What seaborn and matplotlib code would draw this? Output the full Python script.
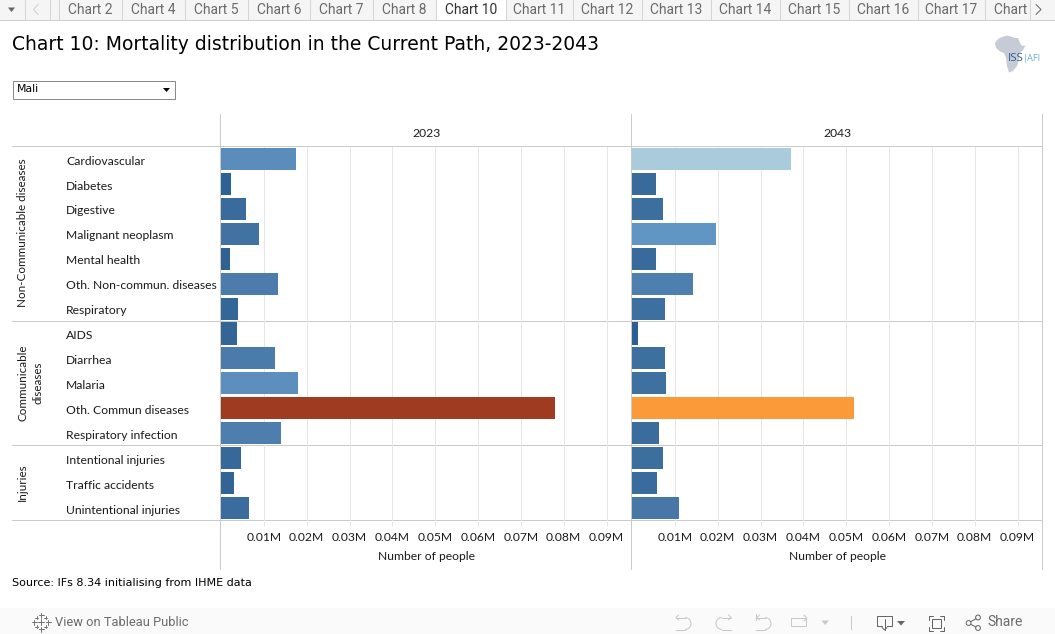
import numpy as np
import pandas as pd
import matplotlib
matplotlib.use("Agg")
import matplotlib.pyplot as plt
import seaborn as sns
from matplotlib.colors import LinearSegmentedColormap, to_hex
from matplotlib.lines import Line2D
from matplotlib.patches import Rectangle, Polygon, Arc, Circle
from matplotlib.transforms import ScaledTranslation

categories = ["Cardiovascular", "Diabetes", "Digestive", "Malignant neoplasm", "Mental health",
              "Oth. Non-commun. diseases", "Respiratory", "AIDS", "Diarrhea", "Malaria",
              "Oth. Commun diseases", "Respiratory infection", "Intentional injuries",
              "Traffic accidents", "Unintentional injuries"]
deaths_2023 = [17550, 2400, 5900, 8900, 2100, 13400, 4000, 3800, 12650, 18000, 78000, 14000, 4700, 3100, 6600]
deaths_2043 = [37200, 5500, 7300, 19700, 5700, 14300, 7800, 1300, 7600, 8000, 51900, 6400, 7300, 5900, 11000]
years = ["2023", "2043"]
group_labels = ["Non-Communicable diseases", "Communicable\ndiseases", "Injuries"]
tick_values = [10000, 20000, 30000, 40000, 50000, 60000, 70000, 80000, 90000]
tab_labels = ["Chart 2", "Chart 4", "Chart 5", "Chart 6", "Chart 7", "Chart 8", "Chart 10", "Chart 11",
              "Chart 12", "Chart 13", "Chart 14", "Chart 15", "Chart 16", "Chart 17", "Chart 18"]

W, H = 1055, 634
sns.set_theme(style="white")
plt.rcParams["font.family"] = ["Lato", "DejaVu Sans"]
fig = plt.figure(figsize=(W / 100, H / 100), dpi=100, facecolor="white")

# colour ramp: value -> colour, as in the reference's diverging legend
stops = [(0, "#2a5d8f"), (13400, "#4c7dac"), (18000, "#5c8fbe"), (19700, "#6095c4"),
         (37200, "#a9cbdc"), (51900, "#fb9a38"), (78000, "#9e3b20")]
cmap = LinearSegmentedColormap.from_list("mort", [(v / 78000, c) for v, c in stops])

def px_axes(x0, y0, x1, y1):
    return fig.add_axes([x0 / W, 1 - y1 / H, (x1 - x0) / W, (y1 - y0) / H])

# ---------- page furniture, in pixel coordinates ----------
bg = fig.add_axes([0, 0, 1, 1], zorder=0)
bg.set_xlim(0, W); bg.set_ylim(H, 0); bg.axis("off")
LINE = "#cbcbcb"
INK = "#1a1a1a"
PX = 0.72
def hl(x0, x1, y, c=LINE, lw=PX, z=5):
    bg.add_line(Line2D([x0, x1], [y, y], color=c, lw=lw, zorder=z))
def vl(x, y0, y1, c=LINE, lw=PX, z=5):
    bg.add_line(Line2D([x, x], [y0, y1], color=c, lw=lw, zorder=z))
def pl(xs, ys, c, z=3):
    bg.add_line(Line2D(xs, ys, color=c, lw=PX, zorder=z))

# tab strip
bg.add_patch(Rectangle((0, 0), W, 19.5, fc="#f5f5f5", ec="none", zorder=1))
hl(0, W, 19.5, c="#cfcfcf", z=2)
edges = [58.5, 121.7, 184.6, 247.8, 310.3, 372.5, 436, 506, 572.5, 641.5, 710.8, 779.8, 848.7, 917.7, 985.3, 1029.5]
for e in [24.7, 49.7] + edges:
    vl(e, 0, 19.5, c="#d4d4d4", z=3)
bg.add_patch(Rectangle((436, 0), 70, 20.3, fc="white", ec="none", zorder=2.5))
for i, lab in enumerate(tab_labels):
    x = (edges[i] + edges[i + 1]) / 2
    active = lab == "Chart 10"
    t = bg.text(x if i < 14 else 994.5, 9.5, lab, ha="center" if i < 14 else "left", va="center",
                fontsize=10.0, family="Roboto", color="#333333" if active else "#6b6b6b", zorder=4)
    if i == 14:
        t.set_clip_on(True)
        t.set_clip_path(Rectangle((985, 0), 44.5, 19, transform=bg.transData))
bg.add_patch(Polygon([(8, 7.5), (15, 7.5), (11.5, 12)], fc="#666666", ec="none", zorder=4))
pl([38, 33.5, 38], [4.5, 9.5, 14.5], "#cfcfcf", z=4)
pl([1036, 1041, 1036], [4.5, 9.5, 14.5], "#666666", z=4)

# title, filter, source
bg.text(12, 44, "Chart 10: Mortality distribution in the Current Path, 2023-2043",
        fontsize=13.52, family="DejaVu Sans", color="black", va="center", ha="left")
bg.add_patch(Rectangle((12.5, 80.5), 162.5, 18.5, fc="white", ec="#8a8a8a", lw=PX))
bg.text(17, 89.5, "Mali", fontsize=7.8, family="DejaVu Sans", color="black", va="center")
bg.add_patch(Polygon([(163, 88), (170, 88), (166.5, 92)], fc="black", ec="none"))
bg.text(12, 583, "Source: IFs 8.34 initialising from IHME data", fontsize=8.03, family="DejaVu Sans",
        color="black", va="center")

# logo
bg.add_patch(Polygon([(1002, 37), (1007, 35.5), (1011, 36.5), (1015, 38), (1018, 38), (1020, 43), (1022, 46),
                      (1025.5, 45.5), (1023, 50), (1019, 54), (1019, 60), (1017, 66), (1013, 71), (1009, 72.5),
                      (1007, 66), (1006, 58), (1004, 53), (1000, 51.5), (996, 48), (995, 43), (998, 39)],
                     fc="#c6ccd5", ec="none", zorder=2))
bg.text(1008, 58.5, "ISS", fontsize=8.2, family="Open Sans", color="#2f5a88", va="center", zorder=3)
bg.text(1023, 58.5, "|AFI", fontsize=6.6, family="Open Sans", color="#6aaed6", va="center", zorder=3)

# table rules
TOP, BOT = 146.5, 520.5
for y in [146.0, 321.0, 445.0, 520.0]:
    hl(12, 1042, y)
for x in [220.0, 631.0, 1042.0]:
    vl(x, 114, 568.5)
bg.text(22.5, 232.5, group_labels[0], rotation=90, ha="center", va="center", fontsize=8.4, color=INK)
bg.text(30.5, 382.5, group_labels[1], rotation=90, ha="center", va="center", fontsize=8.4, color=INK,
        linespacing=1.4, multialignment="center")
bg.text(22.5, 482, group_labels[2], rotation=90, ha="center", va="center", fontsize=8.4, color=INK)

# toolbar
bg.add_patch(Rectangle((0, 608), W, 26, fc="#fafafa", ec="none", zorder=1))
for dx, dy, s in [(0, -7, 2.5), (0, 7, 2.5), (-7, 0, 2.5), (7, 0, 2.5), (0, 0, 3), (-4.5, -4.5, 1.6),
                  (4.5, -4.5, 1.6), (-4.5, 4.5, 1.6), (4.5, 4.5, 1.6)]:
    cx, cy = 41 + dx, 622 + dy
    hl(cx - s, cx + s, cy, c="#777777", z=3)
    vl(cx, cy - s, cy + s, c="#777777", z=3)
bg.text(55, 622, "View on Tableau Public", fontsize=9.25, family="Roboto", color="#6b6b6b", va="center", zorder=3)
DIS = "#c8c8c8"; ENA = "#666666"
# undo
bg.add_patch(Arc((685, 623.5), 12, 12, theta1=-90, theta2=90, color=DIS, lw=PX, zorder=3))
pl([676, 685], [617.5, 617.5], DIS); pl([676, 685], [629.5, 629.5], DIS); pl([678.5, 676, 678.5], [615, 617.5, 620], DIS)
# redo
bg.add_patch(Arc((722, 623.5), 12, 12, theta1=90, theta2=270, color=DIS, lw=PX, zorder=3))
pl([722, 731], [617.5, 617.5], DIS); pl([722, 731], [629.5, 629.5], DIS); pl([728.5, 731, 728.5], [615, 617.5, 620], DIS)
# revert
bg.add_patch(Arc((765, 623.5), 12, 12, theta1=-90, theta2=90, color=DIS, lw=PX, zorder=3))
pl([757, 765], [617.5, 617.5], DIS); pl([756, 765], [629.5, 629.5], DIS); pl([759.5, 757, 759.5], [615, 617.5, 620], DIS)
vl(755.5, 614, 620, c=DIS, z=3)
# refresh
bg.add_patch(Rectangle((791, 618), 15, 8, fc="none", ec=DIS, lw=PX, zorder=3))
pl([804, 807, 804], [615, 618, 621], DIS)
bg.add_patch(Polygon([(821.5, 620.5), (829, 620.5), (825.2, 625)], fc=DIS, ec="none", zorder=3))
vl(850.5, 616, 629, c=DIS, z=3)
# download
pl([882, 877, 877, 892, 892, 887], [625.5, 625.5, 615.5, 615.5, 625.5, 625.5], ENA)
vl(884.5, 619, 630, c=ENA, z=3); pl([882, 884.5, 887], [627.5, 630, 627.5], ENA)
bg.add_patch(Polygon([(897, 621), (905, 621), (901, 625.5)], fc=ENA, ec="none", zorder=3))
# fullscreen
for cx, sx in [(928.5, 1), (943.5, -1)]:
    for cy, sy in [(615.5, 1), (630.5, -1)]:
        pl([cx, cx, cx + 4 * sx], [cy + 4 * sy, cy, cy], ENA)
bg.add_patch(Rectangle((931.5, 618.5), 9, 9, fc="none", ec=ENA, lw=PX, zorder=3))
# share
for c in [(968.6, 623), (978, 617.5), (978, 628)]:
    bg.add_patch(Circle(c, 2.4, fc="none", ec=ENA, lw=PX, zorder=3))
pl([976, 970.6], [618.8, 621.7], ENA); pl([976, 970.6], [627, 624.3], ENA)
bg.text(987, 622.5, "Share", fontsize=10.0, family="Roboto", color="#6b6b6b", va="center", zorder=3)

# ---------- the two panels ----------
panels = [(221.0, 631.5, deaths_2023), (632.0, 1042.5, deaths_2043)]
px_per_10k = 42.84
LABEL = 8.7
down = ScaledTranslation(0, -0.8 / 72, fig.dpi_scale_trans)
for k, (x0, x1, values) in enumerate(panels):
    df = pd.DataFrame({"category": categories, "deaths": values})
    palette = {c: to_hex(cmap(v / 78000)) for c, v in zip(categories, values)}
    ax = px_axes(x0, TOP, x1, BOT)
    ax.patch.set_alpha(0)
    ax.set_zorder(2)
    sns.barplot(data=df, y="category", x="deaths", hue="category", palette=palette, order=categories,
                hue_order=categories, width=0.885, dodge=False, legend=False, saturation=1, ax=ax,
                linewidth=0, zorder=3)
    ax.set_xlim(0, (x1 - x0) / px_per_10k * 10000)
    ax.set_ylim(14.5, -0.5)
    ax.set_xticks(tick_values)
    ax.set_xticklabels([f"{v / 1e6:.2f}M" for v in tick_values], fontsize=LABEL, color=INK)
    ax.tick_params(axis="x", length=3.6, width=PX, color="#e6e6e6", pad=4.6, bottom=True)
    ax.xaxis.grid(True, color="#e6e6e6", lw=PX, zorder=0)
    ax.set_axisbelow(True)
    ax.set_xlabel("Number of people", fontsize=LABEL, color=INK, labelpad=5.6)
    ax.set_title(years[k], fontsize=LABEL, color=INK, pad=6.5)
    for s in ax.spines.values():
        s.set_visible(False)
    ax.set_ylabel("")
    if k == 0:
        ax.set_yticks(range(len(categories)))
        ax.set_yticklabels(categories, fontsize=LABEL, color=INK, ha="left")
        ax.tick_params(axis="y", length=0, pad=(x0 - 66) * 0.72)
        for lab in ax.get_yticklabels():
            lab.set_transform(lab.get_transform() + down)
    else:
        ax.set_yticks([])

fig.savefig("out.png", dpi=100)
